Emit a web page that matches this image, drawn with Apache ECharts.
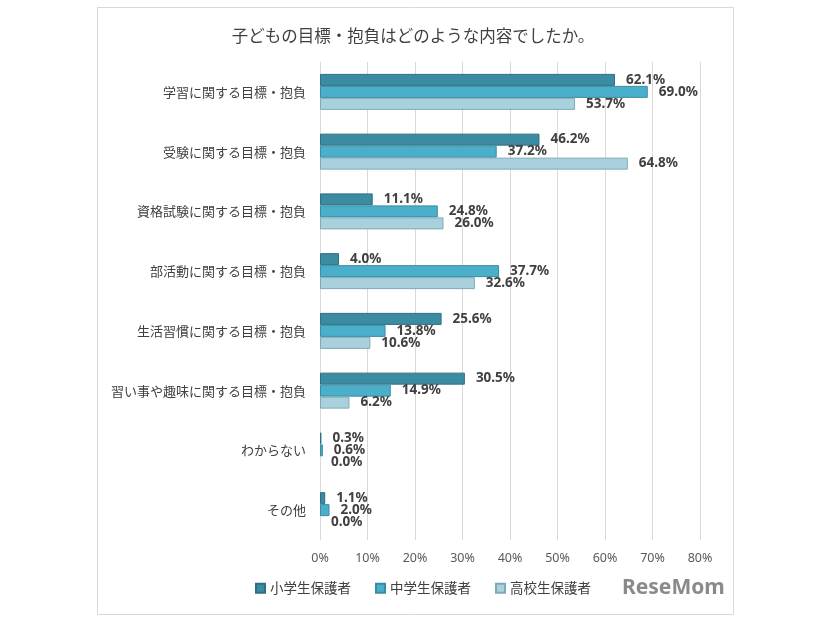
<!DOCTYPE html>
<html><head><meta charset="utf-8">
<script src="https://cdn.jsdelivr.net/npm/echarts@6/dist/echarts.min.js"></script>
<style>html,body{margin:0;padding:0;background:#fff}#c{width:826px;height:620px}</style>
</head><body><div id="c"></div>
<script>
const categories = ['学習に関する目標・抱負','受験に関する目標・抱負','資格試験に関する目標・抱負','部活動に関する目標・抱負','生活習慣に関する目標・抱負','習い事や趣味に関する目標・抱負','わからない','その他'];
const seriesNames = ['小学生保護者','中学生保護者','高校生保護者'];
const elementary = [62.1, 46.2, 11.1, 4.0, 25.6, 30.5, 0.3, 1.1];
const juniorHigh = [69.0, 37.2, 24.8, 37.7, 13.8, 14.9, 0.6, 2.0];
const highSchool = [53.7, 64.8, 26.0, 32.6, 10.6, 6.2, 0.0, 0.0];
const xTicks = [0,10,20,30,40,50,60,70,80];

const colors = ['#3b8ca2','#4aafca','#a9d1dd'];
const borders = ['#2e6f80','#3a8ca2','#7fa9b6'];
const dataSets = [elementary, juniorHigh, highSchool];

const chart = echarts.init(document.getElementById('c'), null, {renderer:'canvas'});
chart.setOption({
  animation:false,
  backgroundColor:'#fff',
  title:{text:'子どもの目標・抱負はどのような内容でしたか。',left:'center',top:22,
    textStyle:{fontFamily:'Noto Sans CJK JP',fontSize:16.5,fontWeight:'normal',color:'#404040'}},
  grid:{left:320,right:126,top:62,bottom:80},
  legend:{bottom:20,left:250,itemWidth:9,itemHeight:9,itemGap:24,icon:'rect',
    textStyle:{fontFamily:'Noto Sans CJK JP',fontSize:13.5,color:'#404040'},
    data:seriesNames},
  xAxis:{type:'value',min:xTicks[0],max:xTicks[xTicks.length-1],interval:10,
    axisLabel:{formatter:v=>v+'%',fontFamily:'Noto Sans',fontSize:12.5,color:'#595959',margin:12},
    axisLine:{show:false},axisTick:{show:false},
    splitLine:{lineStyle:{color:'#d9d9d9',width:1}}},
  yAxis:{type:'category',data:categories,inverse:true,
    axisLabel:{fontFamily:'Noto Sans CJK JP',fontSize:13,color:'#404040',margin:14},
    axisLine:{lineStyle:{color:'#d9d9d9'}},axisTick:{show:false}},
  graphic:[
    {type:'rect',left:95,top:5,shape:{width:636,height:607},style:{fill:'none',stroke:'#d9d9d9',lineWidth:1},z:-1},
    {type:'text',left:622,top:578,style:{text:'ReseMom',fontFamily:'Noto Sans',fontWeight:'bold',fontSize:21,fill:'#8a8a8a'}}
  ],
  series: seriesNames.map((n,i)=>({
    name:n,type:'bar',
    data:dataSets[i].map(v=>v===0?{value:v,itemStyle:{borderWidth:0}}:v),
    barWidth:12,barGap:'0%',
    itemStyle:{color:colors[i],borderColor:borders[i],borderWidth:1},
    label:{show:true,position:'right',distance:11,formatter:p=>p.value.toFixed(1)+'%',
      fontFamily:'Noto Sans',fontWeight:'bold',fontSize:13.5,color:'#404040'}
  }))
});
</script></body></html>
